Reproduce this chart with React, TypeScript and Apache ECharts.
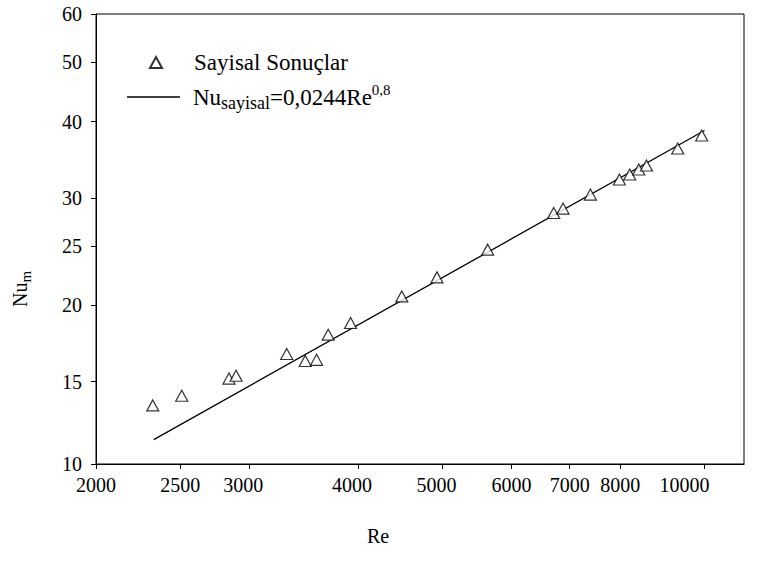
import React, { useEffect, useRef } from "react";
import * as echarts from "echarts";

// Measured data (Re, Nu_m)
const reValues = [2324, 2509, 2843, 2897, 3312, 3478, 3584, 3696, 3921, 4490, 4928, 5635, 6710, 6878, 7394, 7984, 8205, 8403, 8576, 9315, 9925];
const nuValues = [13.72, 14.23, 15.18, 15.34, 16.65, 16.22, 16.29, 17.91, 18.72, 20.69, 22.23, 24.68, 28.34, 28.81, 30.37, 32.15, 32.76, 33.39, 33.89, 36.13, 37.95];

// Correlation line Nu = 0.0244 Re^0.8, end points
const fitRe = [2330, 10000];
const fitNu = [12.06, 38.67];

// Axis ticks
const xTicks = [2000, 2500, 3000, 4000, 5000, 6000, 7000, 8000, 10000];
const xRange = [2000, 11100];
const yTickPositions = [11, 15, 20, 25, 30, 40, 50, 60];
const yTickLabels = ["10", "15", "20", "25", "30", "40", "50", "60"];
const yRange = [11, 60];

const seriesNames = ["Sayisal Sonuçlar", "Nu_sayisal=0,0244Re^0,8"];

const FONT = "'Liberation Serif', 'Times New Roman', 'DejaVu Serif', serif";
const lg = Math.log10;

export default function App() {
  const ref = useRef<HTMLDivElement>(null);
  useEffect(() => {
    document.body.style.margin = "0";
    const chart = echarts.init(ref.current!, null, { renderer: "svg" });
    const yLabelMap: Record<string, string> = {};
    yTickPositions.forEach((p, i) => (yLabelMap[lg(p).toFixed(6)] = yTickLabels[i]));
    const xRich: any = {
      c: { fontFamily: FONT, fontSize: 20, color: "#000" },
      l1: { fontFamily: FONT, fontSize: 20, color: "#000", padding: [0, 12, 0, 0] },
      l2: { fontFamily: FONT, fontSize: 20, color: "#000", padding: [0, 40, 0, 0] },
    };
    const option: any = {
      animation: false,
      backgroundColor: "#fff",
      textStyle: { fontFamily: FONT, color: "#000" },
      grid: {
        left: 96,
        right: 19,
        top: 14,
        bottom: 116,
        containLabel: false,
        outerBoundsMode: "none",
        show: true,
        borderColor: "#000",
        borderWidth: 1,
      },
      legend: [
        {
          orient: "vertical",
          left: 149,
          top: 51,
          padding: 0,
          itemWidth: 12,
          itemHeight: 11,
          data: [seriesNames[0]],
          textStyle: { fontFamily: FONT, fontSize: 23, color: "#000", padding: [0, 0, 0, 27] },
        },
        {
          orient: "vertical",
          left: 127,
          top: 82,
          padding: 0,
          itemWidth: 53,
          itemHeight: 1.3,
          icon: "rect",
          data: [seriesNames[1]],
          formatter: () => "{a|Nu}{s|sayisal}{a|=0,0244Re}{p|0,8}",
          textStyle: {
            fontFamily: FONT,
            color: "#000",
            padding: [0, 0, 0, 8],
            rich: {
              a: { fontFamily: FONT, fontSize: 23, lineHeight: 30, verticalAlign: "middle", color: "#000" },
              s: { fontFamily: FONT, fontSize: 18, lineHeight: 13, verticalAlign: "bottom", color: "#000" },
              p: { fontFamily: FONT, fontSize: 15, lineHeight: 8, verticalAlign: "top", color: "#000" },
            },
          },
        },
      ],
      xAxis: {
        type: "value",
        min: lg(xRange[0]),
        max: lg(xRange[1]),
        name: "Re",
        nameLocation: "middle",
        nameGap: 62,
        nameTextStyle: { fontFamily: FONT, fontSize: 20, color: "#000", padding: [0, 84, 0, 0] },
        axisLine: { show: true, onZero: false, lineStyle: { color: "#000", width: 1 } },
        axisTick: { show: true, inside: false, length: 5, customValues: xTicks.map(lg), lineStyle: { color: "#000" } },
        axisLabel: {
          show: true,
          margin: 11,
          fontFamily: FONT,
          fontSize: 20,
          color: "#000",
          rich: xRich,
          customValues: xTicks.map(lg),
          formatter: (v: number) => {
            const n = Math.round(Math.pow(10, v));
            if (n === 10000) return `{l2|${n}}`;
            if (n === 3000 || n === 4000 || n === 5000) return `{l1|${n}}`;
            return `{c|${n}}`;
          },
        },
        splitLine: { show: false },
      },
      yAxis: {
        type: "value",
        min: lg(yRange[0]),
        max: lg(yRange[1]),
        name: "{a|Nu}{s|m}",
        nameLocation: "middle",
        nameRotate: 90,
        nameGap: 63,
        nameTextStyle: {
          fontFamily: FONT,
          color: "#000",
          padding: [0, 100, 0, 0],
          rich: {
            a: { fontFamily: FONT, fontSize: 20, lineHeight: 26, verticalAlign: "middle", color: "#000" },
            s: { fontFamily: FONT, fontSize: 15, lineHeight: 10, verticalAlign: "bottom", color: "#000" },
          },
        },
        axisLine: { show: true, onZero: false, lineStyle: { color: "#000", width: 1 } },
        axisTick: { show: true, inside: false, length: 5, customValues: yTickPositions.map(lg), lineStyle: { color: "#000" } },
        axisLabel: {
          show: true,
          margin: 14,
          fontFamily: FONT,
          fontSize: 20,
          color: "#000",
          customValues: yTickPositions.map(lg),
          formatter: (v: number) => yLabelMap[v.toFixed(6)] ?? String(Math.round(Math.pow(10, v))),
        },
        splitLine: { show: false },
      },
      series: [
        {
          name: seriesNames[0],
          type: "scatter",
          symbol: "triangle",
          symbolSize: [12, 11],
          itemStyle: { color: "#fff", borderColor: "#000", borderWidth: 1.2 },
          data: reValues.map((r, i) => [lg(r), lg(nuValues[i])]),
          z: 3,
        },
        {
          name: seriesNames[1],
          type: "line",
          symbol: "none",
          lineStyle: { color: "#000", width: 1.3 },
          itemStyle: { color: "#000" },
          data: fitRe.map((r, i) => [lg(r), lg(fitNu[i])]),
          z: 2,
        },
      ],
    };
    chart.setOption(option);
    return () => chart.dispose();
  }, []);
  return (
    <div
      ref={ref}
      style={{ position: "absolute", left: 0, top: 0, width: 763, height: 580 }}
    />
  );
}
